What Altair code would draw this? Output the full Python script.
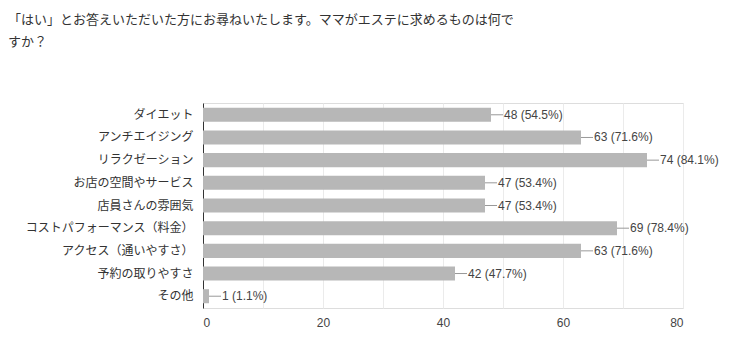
import altair as alt
import pandas as pd

categories = ["ダイエット", "アンチエイジング", "リラクゼーション", "お店の空間やサービス",
              "店員さんの雰囲気", "コストパフォーマンス（料金）", "アクセス（通いやすさ）",
              "予約の取りやすさ", "その他"]
counts = [48, 63, 74, 47, 47, 69, 63, 42, 1]
percents = ["54.5", "71.6", "84.1", "53.4", "53.4", "78.4", "71.6", "47.7", "1.1"]
x_ticks = [0, 10, 20, 30, 40, 50, 60, 70, 80]
title_lines = ["「はい」とお答えいただいた方にお尋ねいたします。ママがエステに求めるものは何で", "すか？"]

df = pd.DataFrame({"cat": categories, "count": counts, "pct": percents})
df["label"] = [f"{c} ({p}%)" for c, p in zip(counts, percents)]

FONT = "'Liberation Sans', 'Noto Sans CJK JP', sans-serif"

y = alt.Y("cat:N", sort=categories, title=None,
          scale=alt.Scale(paddingInner=0.38, paddingOuter=0.21),
          axis=alt.Axis(domain=True, domainColor="#333333", ticks=False, labelPadding=10,
                        labelFontSize=12, labelColor="#333333", labelFont=FONT, labelLimit=300))
x = alt.X("count:Q", title=None, scale=alt.Scale(domain=[0, 80], nice=False),
          axis=alt.Axis(values=x_ticks, domain=False, ticks=False, labelPadding=9,
                        labelFontSize=12, labelColor="#444444", labelFont=FONT,
                        gridColor="#ebebeb",
                        labelExpr="datum.value % 20 == 0 ? datum.label : ''"))

base = alt.Chart(df)
bars = base.mark_bar(color="#b7b7b7").encode(x=x, y=y)
leaders = base.mark_rule(color="#999999", x2Offset=12).encode(
    x="count:Q", x2="count", y=alt.Y("cat:N", sort=categories))
texts = base.mark_text(align="left", baseline="middle", dx=13, fontSize=12,
                       color="#444444", font=FONT).encode(
    x="count:Q", y=alt.Y("cat:N", sort=categories), text="label:N")

chart = alt.layer(bars, leaders, texts).properties(
    width=480, height=205,
    title=alt.TitleParams(text=title_lines, anchor="start", frame="group", dx=-195,
                          offset=54, fontSize=13, fontWeight="normal", color="#333333",
                          font="'Noto Sans CJK JP', sans-serif", lineHeight=22),
    autosize=alt.AutoSizeParams(type="none"),
    padding={"left": 195, "top": 95, "right": 45, "bottom": 43},
).configure_view(stroke=None).configure(background="white")

chart.save("out.html", embed_options={"renderer": "svg", "actions": False})
